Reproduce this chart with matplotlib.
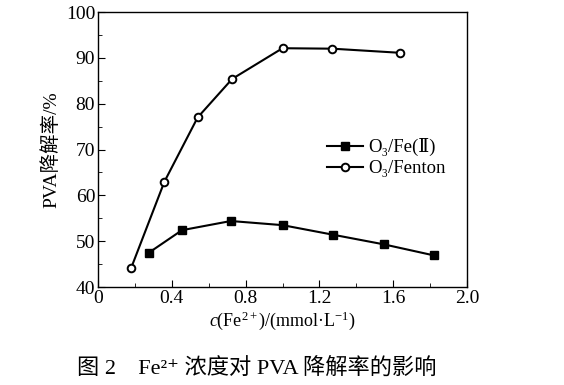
import matplotlib
matplotlib.use("Agg")
import matplotlib.pyplot as plt
from matplotlib.ticker import MultipleLocator

fam = ['Liberation Serif', 'DejaVu Serif', 'Noto Sans CJK SC']
plt.rcParams['font.family'] = fam
plt.rcParams['mathtext.fontset'] = 'custom'
plt.rcParams['mathtext.rm'] = 'Liberation Serif'
plt.rcParams['mathtext.it'] = 'Liberation Serif:italic'

# O3/Fe(II)
x_fe = [0.276, 0.455, 0.72, 1.0, 1.275, 1.55, 1.82]
y_fe = [47.5, 52.4, 54.4, 53.5, 51.4, 49.3, 46.9]
# O3/Fenton
x_fenton = [0.18, 0.36, 0.54, 0.727, 1.0, 1.27, 1.637]
y_fenton = [44.2, 63.0, 77.0, 85.4, 92.1, 92.0, 91.1]

fig = plt.figure(figsize=(5.64, 3.85), dpi=100)
ax = fig.add_axes([0.1738, 0.2545, 0.6543, 0.7143])

ax.plot(x_fe, y_fe, color='k', lw=1.5, marker='s', ms=5.5, mfc='k', mec='k',
        label='O₃/Fe(Ⅱ)')
ax.plot(x_fenton, y_fenton, color='k', lw=1.5, marker='o', ms=5.5, mfc='white',
        mec='k', mew=1.4, label='O₃/Fenton')

ax.set_xlim(0, 2.0)
ax.set_ylim(40, 100)
ax.set_xticks([0, 0.4, 0.8, 1.2, 1.6, 2.0])
ax.set_xticklabels(['0', '0.4', '0.8', '1.2', '1.6', '2.0'])
ax.xaxis.set_minor_locator(MultipleLocator(0.2))
ax.yaxis.set_major_locator(MultipleLocator(10))
ax.yaxis.set_minor_locator(MultipleLocator(5))
ax.tick_params(which='both', direction='in', top=False, right=False,
               labelsize=14, pad=2)
ax.tick_params(which='major', length=5)
ax.tick_params(which='minor', length=3)
for s in ax.spines.values():
    s.set_linewidth(1.0)

ax.set_xlabel(r'$c$(Fe$^{2+}$)/(mmol·L$^{-1}$)', fontsize=13, labelpad=2)
ax.set_ylabel('PVA降解率/%', fontsize=14, labelpad=4)

ax.legend(loc='center left', bbox_to_anchor=(0.6, 0.47), frameon=False,
          fontsize=13.5, handlelength=1.9, handletextpad=0.3, labelspacing=0.2,
          borderaxespad=0)

fig.text(0.455, 0.015, '图 2　Fe²⁺ 浓度对 PVA 降解率的影响', ha='center',
         va='bottom', fontsize=16)

fig.savefig('out.png', dpi=100)
